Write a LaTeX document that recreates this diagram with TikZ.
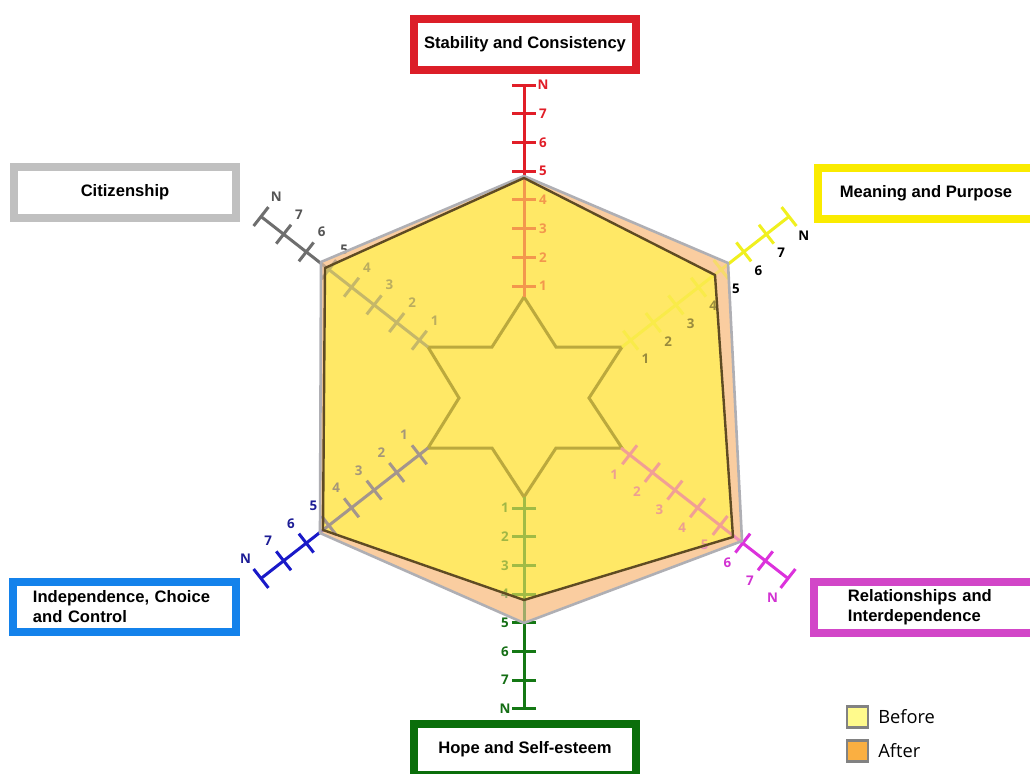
\documentclass[tikz,border=0pt]{standalone}
\usepackage{fontspec}
\setmainfont{Liberation Sans}
\newfontfamily\legendfont{Open Sans}
\usetikzlibrary{calc}

\definecolor{axred}{RGB}{225,30,40}
\definecolor{axyellow}{RGB}{240,240,30}
\definecolor{axgreen}{RGB}{20,120,20}
\definecolor{axgray}{RGB}{110,110,110}
\definecolor{axblue}{RGB}{25,25,200}
\definecolor{axpink}{RGB}{220,50,220}
\definecolor{labgreen}{RGB}{20,110,20}
\definecolor{labgray}{RGB}{85,85,85}
\definecolor{labblue}{RGB}{30,30,150}
\definecolor{labpink}{RGB}{210,50,210}
\definecolor{boxred}{RGB}{220,30,40}
\definecolor{boxyellow}{RGB}{250,235,0}
\definecolor{boxgray}{RGB}{192,192,192}
\definecolor{boxblue}{RGB}{20,130,235}
\definecolor{boxgreen}{RGB}{10,110,10}
\definecolor{boxpink}{RGB}{210,70,200}
\definecolor{beforefill}{RGB}{255,232,102}
\definecolor{afterfill}{RGB}{250,205,160}
\definecolor{beforeline}{RGB}{95,75,35}
\definecolor{afterline}{RGB}{175,175,180}
\definecolor{starcol}{RGB}{85,75,0}
\definecolor{legbefore}{RGB}{255,250,140}
\definecolor{legafter}{RGB}{250,175,65}
\definecolor{legline}{RGB}{130,130,130}

\tikzset{
  axisline/.style={line width=0.075cm},
  catbox/.style={draw, line width=0.2cm, fill=white, minimum width=5.55cm,
    minimum height=1.275cm, font=\bfseries\fontsize{11.8}{14.2}\selectfont},
  ticklab/.style={font=\legendfont\bfseries\fontsize{9.5}{10}\selectfont, inner sep=0pt},
  legsq/.style={draw=legline, line width=0.06cm, minimum size=0.52cm, inner sep=0pt},
  legtext/.style={font=\legendfont\fontsize{13}{15}\selectfont, inner sep=0pt, anchor=west},
}

\begin{document}
\begin{tikzpicture}[x=0.025cm,y=-0.025cm]
    \fill[white] (0,0) rectangle (1030,774);
    \useasboundingbox (0,0) rectangle (1030,774);

    % before and after hexagons
    \coordinate (b1) at (524,178);
    \coordinate (b2) at (715,275);
    \coordinate (b3) at (733,537);
    \coordinate (b4) at (524,600);
    \coordinate (b5) at (323,530);
    \coordinate (b6) at (325,268);
    \coordinate (a1) at (524,176);
    \coordinate (a2) at (728,263);
    \coordinate (a3) at (742,541);
    \coordinate (a4) at (524,623);
    \coordinate (a5) at (320,533);
    \coordinate (a6) at (321,262);
    \fill[afterfill] (a1) -- (a2) -- (a3) -- (a4) -- (a5) -- (a6) -- cycle;
    \fill[beforefill] (b1) -- (b2) -- (b3) -- (b4) -- (b5) -- (b6) -- cycle;

    % star
    \draw[starcol, line width=0.075cm, line join=miter]
    (524,297) -- (556,347) -- (622,347) -- (589,398) -- (622,448) -- (556,448) --
    (524,497) -- (492,448) -- (428,448) -- (459,398) -- (428,347) -- (492,347) -- cycle;

    % axes with ticks
    \foreach \sx/\sy/\ang/\axcol/\labcol/\off in {524/297/90/axred/axred/19,
        622/347/38/axyellow/black/24, 621/448/-38/axpink/labpink/25,
        524/497/-90/axgreen/labgreen/19, 428/448/218/axblue/labblue/25,
        428/347/142/axgray/labgray/25} {
        \begin{scope}[shift={(\sx,\sy)}, rotate=\ang]
          \draw[axisline, draw=\axcol] (0,0) -- (211.9,0);
          \foreach \k/\lab in {1/1,2/2,3/3,4/4,5/5,6/6,7/7,8/N} {
              \pgfmathsetmacro\dist{11+28.7*(\k-1)}
              \draw[axisline, draw=\axcol] (\dist,-12) -- (\dist,12);
              \node[ticklab, text=\labcol] at (\dist,\off) {\lab};
            }
        \end{scope}
      }

    % fade what lies inside
    \fill[beforefill, opacity=0.6] (b1) -- (b2) -- (b3) -- (b4) -- (b5) -- (b6) -- cycle;
    \fill[afterfill, opacity=0.6, even odd rule]
    (a1) -- (a2) -- (a3) -- (a4) -- (a5) -- (a6) -- cycle
    (b1) -- (b2) -- (b3) -- (b4) -- (b5) -- (b6) -- cycle;
    \draw[afterline, line width=0.065cm, line join=round]
    (a1) -- (a2) -- (a3) -- (a4) -- (a5) -- (a6) -- cycle;
    \draw[beforeline, line width=0.06cm, line join=round]
    (b1) -- (b2) -- (b3) -- (b4) -- (b5) -- (b6) -- cycle;

    % category boxes
    \node[catbox, draw=boxred] (stab) at (525,44.5) {Stability and Consistency};
    \node[catbox, draw=boxgray] (citiz) at (125,192.5) {Citizenship};
    \node[catbox, draw=boxyellow, minimum width=5.4cm] (mean) at (926,193.5) {Meaning and Purpose};
    \node[catbox, draw=boxblue, minimum height=1.25cm, text width=4.575cm,
      inner xsep=0.475cm, align=left] (indep) at (124.5,607) {Independence, Choice\\and Control};
    \node[catbox, draw=boxpink, text width=4.575cm, inner xsep=0.85cm,
      align=left] (relat) at (939.5,607.5) {Relationships and\\Interdependence};
    \node[catbox, draw=boxgreen] (hope) at (525,749.5) {Hope and Self-esteem};

    % legend
    \node[legsq, fill=legbefore] (sqbefore) at (857.5,717) {};
    \node[legsq, fill=legafter] (sqafter) at (857.5,751) {};
    \node[legtext] (txtbefore) at (878,717) {Before};
    \node[legtext] (txtafter) at (878,751) {After};
  \end{tikzpicture}
\end{document}
